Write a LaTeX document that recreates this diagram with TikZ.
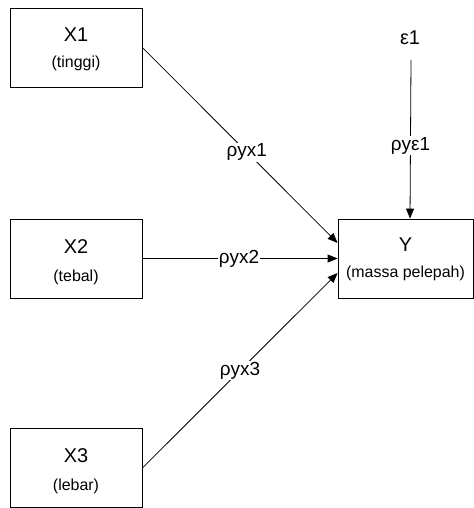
\documentclass[tikz,border=0pt]{standalone}
\usepackage{fontspec}
\setmainfont{Liberation Sans}
\usetikzlibrary{arrows.meta,calc}
\begin{document}
\begin{tikzpicture}[x=1bp,y=-1bp,
  box/.style={draw,line width=0.8bp,minimum width=132bp,minimum height=79bp,align=center,inner sep=0pt},
  big/.style={font=\fontsize{20}{22}\selectfont},
  small/.style={font=\fontsize{16}{18}\selectfont},
  lab/.style={font=\fontsize{19}{21}\selectfont,fill=white,inner sep=1bp},
  conn/.style={line width=0.8bp,-{Triangle[length=10bp,width=8bp]}}]
\useasboundingbox (0,0) rectangle (474,508);
\node[box] (x1) at (76,47.5) {};
\node[big] (x1t) at (76,35) {X1};
\node[small] (x1s) at (76,63) {(tinggi)};
\node[box] (x2) at (76,258.5) {};
\node[big] (x2t) at (76,247) {X2};
\node[small] (x2s) at (76,277) {(tebal)};
\node[box] (x3) at (76,468) {};
\node[big] (x3t) at (76,456) {X3};
\node[small] (x3s) at (76,486) {(lebar)};
\node[box,minimum width=135bp] (y) at (405.5,258.5) {};
\node[big] (yt) at (405.5,245) {Y};
\node[small] (ys) at (405.5,273) {(massa pelepah)};
\node[big] (eps) at (410,38) {ε1};
\coordinate (epsb) at (411,60);
\draw[conn] (x1.east) -- node[lab,pos=0.535] (l1) {ρyx1} ($(y.west)+(0,-15.5)$);
\draw[conn] (x2.east) -- node[lab,pos=0.495] (l2) {ρyx2} (y.west);
\draw[conn] (x3.east) -- node[lab,pos=0.5] (l3) {ρyx3} ($(y.west)+(0,14.5)$);
\draw[conn] (epsb) -- node[lab,pos=0.54] (l4) {ρyε1} ($(y.north)+(4.5,0)$);
\end{tikzpicture}
\end{document}
